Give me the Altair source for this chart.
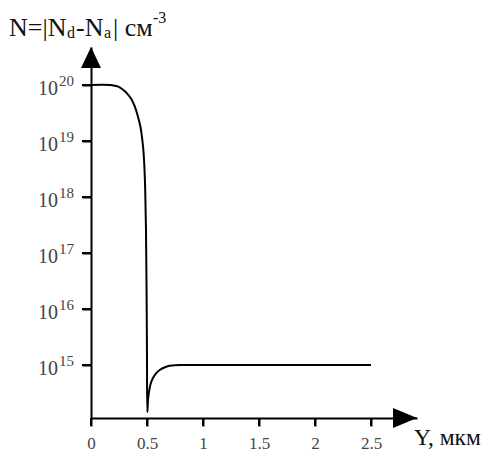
import altair as alt
import pandas as pd

FONT = "Liberation Serif"

# values: depth Y (um) and log10 of N (cm^-3)
depth_um = [0.0, 0.17, 0.259, 0.348, 0.393, 0.42, 0.442, 0.455, 0.466, 0.475, 0.484,
            0.491, 0.496, 0.500, 0.503, 0.510, 0.524, 0.538, 0.569, 0.613, 0.672, 0.717,
            0.80, 1.0, 1.5, 2.0, 2.5]
log10_n = [20.0, 20.0, 19.955, 19.786, 19.607, 19.43, 19.25, 19.07, 18.875, 18.61, 18.125,
           17.41, 16.34, 15.14, 14.16, 14.40, 14.59, 14.70, 14.82, 14.91, 14.97, 14.99,
           15.0, 15.0, 15.0, 15.0, 15.0]
x_ticks = [0, 0.5, 1, 1.5, 2, 2.5]
decades = [15, 16, 17, 18, 19, 20]

curve = pd.DataFrame({"y": depth_um, "logn": log10_n})
curve["n"] = 10.0 ** curve["logn"]
dec = pd.DataFrame({"e": decades})
dec["n"] = 10.0 ** dec["e"]
dec["base"] = "10"
dec["exp"] = dec["e"].astype(str)
xt = pd.DataFrame({"xv": x_ticks})

W, H = 326, 371
xscale = alt.Scale(domain=[0, 2.9107], nice=False, zero=False)
yscale = alt.Scale(type="log", domain=[10 ** 14.054, 10 ** 20.679], nice=False)

line = alt.Chart(curve).mark_line(color="black", strokeWidth=2, interpolate="catmull-rom").encode(
    x=alt.X("y:Q", scale=xscale, axis=alt.Axis(
        values=x_ticks, format="~g", title=None, grid=False,
        ticks=True, tickColor="black", tickWidth=2, tickSize=8,
        domainColor="black", domainWidth=2,
        labelFont=FONT, labelFontSize=17, labelColor="#444", labelBaseline="alphabetic",
        labelPadding=22, labelFlush=False, labelOverlap=False)),
    y=alt.Y("n:Q", scale=yscale, axis=alt.Axis(
        values=[10.0 ** e for e in decades], labels=False, title=None, grid=False,
        ticks=True, tickColor="black", tickWidth=2, tickSize=9,
        domainColor="black", domainWidth=2)),
)

x_tick_marks = alt.Chart(xt).mark_rule(color="black", strokeWidth=2).encode(
    x=alt.X("xv:Q", scale=xscale), y=alt.value(H), y2=alt.value(H + 8))

y_tick_marks = alt.Chart(dec).mark_rule(color="black", strokeWidth=2).encode(
    y=alt.Y("n:Q", scale=yscale), x=alt.value(-9), x2=alt.value(0))

base_txt = alt.Chart(dec).mark_text(
    align="left", baseline="alphabetic", font=FONT, fontSize=20, color="#444", dy=10
).encode(x=alt.value(-53), y=alt.Y("n:Q", scale=yscale), text="base:N")

exp_txt = alt.Chart(dec).mark_text(
    align="left", baseline="alphabetic", font=FONT, fontSize=15, color="#444", dy=1
).encode(x=alt.value(-32), y=alt.Y("n:Q", scale=yscale), text="exp:N")

one = pd.DataFrame({"k": [0]})

y_arrow = alt.Chart(one).mark_point(
    shape="M-0.95,1L0.95,1L0,-1Z", filled=True, size=441, color="black", opacity=1, strokeWidth=0
).encode(x=alt.value(0), y=alt.value(10.5))

x_arrow = alt.Chart(one).mark_point(
    shape="M-1,-0.83L1,0L-1,0.83Z", filled=True, size=576, color="black", opacity=1, strokeWidth=0
).encode(x=alt.value(W - 12), y=alt.value(H))


def txt(s, x, y, size):
    return alt.Chart(one).mark_text(
        text=s, align="left", baseline="alphabetic", font=FONT, fontSize=size, color="#111"
    ).encode(x=alt.value(x), y=alt.value(y))


title_parts = [
    txt("N=|N", -82, -11, 26),
    txt("d", -24, -9, 16),
    txt("-N", -15, -11, 26),
    txt("a", 13, -9, 16),
    txt("| см", 22, -11, 26),
    txt("-3", 62, -24, 16),
    txt("Y, мкм", 323, 398, 23.5),
]

chart = alt.layer(line, x_tick_marks, y_tick_marks, base_txt, exp_txt, y_arrow, x_arrow,
                  *title_parts).properties(
    width=W, height=H,
    autosize=alt.AutoSizeParams(type="none"),
    padding={"left": 83, "top": 39, "right": 66, "bottom": 33},
    background="white",
).configure_view(strokeOpacity=0)

chart.save("out.html", embed_options={"renderer": "svg", "actions": False})
